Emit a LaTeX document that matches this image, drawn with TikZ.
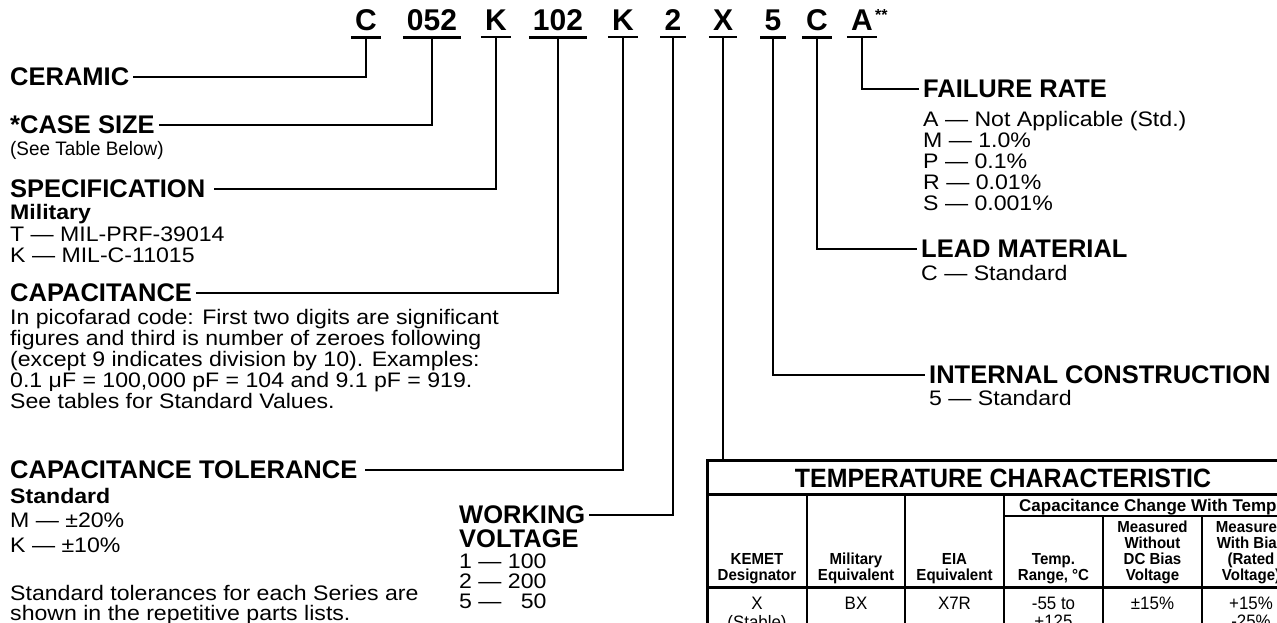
\documentclass[tikz,border=0pt]{standalone}
\usepackage{fontspec}
\setmainfont{Liberation Sans}
\newfontfamily\wid[FakeStretch=1.1]{Liberation Sans}
\newfontfamily\sml[FakeStretch=0.97]{Liberation Sans}
\newfontfamily\tnar[FakeStretch=0.94]{Liberation Sans}
\begin{document}
\begin{tikzpicture}[x=1pt,y=-1pt,line width=2.4pt,
  code/.style={font=\fontsize{30}{30}\selectfont\bfseries,inner xsep=3pt,inner ysep=0pt,anchor=base},
  head/.style={font=\fontsize{25.5}{26}\selectfont\bfseries,inner xsep=3pt,inner ysep=0pt,anchor=west},
  headb/.style={font=\fontsize{25.5}{26}\selectfont\bfseries,inner sep=0pt,anchor=base west},
  sub/.style={font=\wid\fontsize{21}{21}\selectfont\bfseries,inner sep=0pt,anchor=base west},
  body/.style={font=\wid\fontsize{21}{21}\selectfont,inner sep=0pt,anchor=base west},
  small/.style={font=\sml\fontsize{19.5}{19.5}\selectfont,inner sep=0pt,anchor=base west},
  thead/.style={font=\tnar\fontsize{16}{16.3}\selectfont\bfseries,inner sep=0pt,anchor=south,align=center},
  tdata/.style={font=\tnar\fontsize{18}{18}\selectfont,inner sep=0pt,anchor=north,align=center},
  uline/.style={line width=2.4pt},
  conn/.style={line width=2.4pt},
  tthick/.style={line width=3pt},
  tthin/.style={line width=2.2pt}]
\useasboundingbox (0,0) rectangle (1277,622);
\clip (0,0) rectangle (1277,622);

% part number code
\node[code] (c1) at (366,30) {C};
\node[code] (c2) at (432,30) {052};
\node[code] (c3) at (496,30) {K};
\node[code] (c4) at (558,30) {102};
\node[code] (c5) at (623,30) {K};
\node[code] (c6) at (673,30) {2};
\node[code] (c7) at (723,30) {X};
\node[code] (c8) at (773,30) {5};
\node[code] (c9) at (817,30) {C};
\node[code] (c10) at (862,30) {A};
\node[font=\fontsize{16}{16}\selectfont\bfseries,inner sep=0pt,anchor=north west] (stars) at ([xshift=-3pt]c10.north east) {**};
\foreach \c in {c1,c2,c3,c4,c5,c6,c7,c8,c9,c10}
  \draw[uline] ([yshift=-6pt]\c.south west) -- ([yshift=-6pt]\c.south east);

% left column
\node[head] (ceramic) at (6,77) {CERAMIC};
\node[head] (casesize) at (6,125) {*CASE SIZE};
\node[small] (seetable) at (9,155) {(See Table Below)};
\node[head] (spec) at (6,189) {SPECIFICATION};
\node[sub] (military) at (9,219) {Military};
\node[body] (spt) at (9,241) {T — MIL-PRF-39014};
\node[body] (spk) at (9,262) {K — MIL-C-11015};
\node[head] (cap) at (6,293) {CAPACITANCE};
\node[body] (pf1) at (9,324) {In picofarad code: First two digits are significant};
\node[body] (pf2) at (9,345) {figures and third is number of zeroes following};
\node[body] (pf3) at (9,366) {(except 9 indicates division by 10). Examples:};
\node[body] (pf4) at (9,387) {0.1 μF = 100,000 pF = 104 and 9.1 pF = 919.};
\node[body] (pf5) at (9,408) {See tables for Standard Values.};
\node[head] (captol) at (6,470) {CAPACITANCE TOLERANCE};
\node[sub] (standard) at (9,503) {Standard};
\node[body] (tm) at (9,527) {M — ±20\%};
\node[body] (tk) at (9,552) {K — ±10\%};
\node[body] (st1) at (9,600) {Standard tolerances for each Series are};
\node[body] (st2) at (9,620) {shown in the repetitive parts lists.};

% working voltage
\node[head] (working) at (455,515) {WORKING};
\node[headb] (voltage) at (458,547) {VOLTAGE};
\node[body] (v1) at (458,568) {1 — 100};
\node[body] (v2) at (458,588) {2 — 200};
\node[body] (v5) at (458,608) {5 — \hphantom{1}50};

% right column
\node[head] (failure) at (919,89) {FAILURE RATE};
\node[body] (fa) at (922,126) {A — Not Applicable (Std.)};
\node[body] (fm) at (922,147) {M — 1.0\%};
\node[body] (fp) at (922,168) {P — 0.1\%};
\node[body] (fr) at (922,189) {R — 0.01\%};
\node[body] (fs) at (922,210) {S — 0.001\%};
\node[head] (lead) at (917,249) {LEAD MATERIAL};
\node[body] (leadc) at (920,280) {C — Standard};
\node[head] (internal) at (925,375) {INTERNAL CONSTRUCTION};
\node[body] (int5) at (928,405) {5 — Standard};

% connectors
\draw[conn] ([yshift=-6pt]c1.south) |- (ceramic.east);
\draw[conn] ([yshift=-6pt]c2.south) |- (casesize.east);
\draw[conn] ([yshift=-6pt]c3.south) |- ([xshift=5pt]spec.east);
\draw[conn] ([yshift=-6pt]c4.south) |- (cap.east);
\draw[conn] ([yshift=-6pt]c5.south) |- ([xshift=4pt]captol.east);
\draw[conn] ([yshift=-6pt]c6.south) |- (working.east);
\coordinate (tabtop) at (723,460);
\draw[conn] ([yshift=-6pt]c7.south) -- (tabtop);
\draw[conn] ([yshift=-6pt]c8.south) |- (internal.west);
\draw[conn] ([yshift=-6pt]c9.south) |- (lead.west);
\draw[conn] ([yshift=-6pt]c10.south) |- (failure.west);

% temperature characteristic table
\draw[tthick] (707,460) rectangle (1299,720);
\draw[tthin] (707,494.5) -- (1299,494.5);
\draw[tthin] (1004,516) -- (1299,516);
\draw[tthick] (707,587) -- (1299,587);
\draw[tthin] (807,494.5) -- (807,720);
\draw[tthin] (905,494.5) -- (905,720);
\draw[tthin] (1004,494.5) -- (1004,720);
\draw[tthin] (1103,516) -- (1103,720);
\draw[tthin] (1202,516) -- (1202,720);
\node[font=\tnar\fontsize{26.5}{27}\selectfont\bfseries,inner sep=0pt,anchor=base] (ttitle) at (1003,487) {TEMPERATURE CHARACTERISTIC};
\node[font=\fontsize{17}{17}\selectfont\bfseries,inner sep=0pt,anchor=base west] (capchange) at (1018,511) {Capacitance Change With Temperature};
\node[thead] (h1) at (757,587) {KEMET\\Designator\strut};
\node[thead] (h2) at (856,587) {Military\\Equivalent\strut};
\node[thead] (h3) at (954.5,587) {EIA\\Equivalent\strut};
\node[thead] (h4) at (1053.5,587) {Temp.\\Range, °C\strut};
\node[thead] (h5) at (1152.5,587) {Measured\\Without\\DC Bias\\Voltage\strut};
\node[thead] (h6) at (1251,587) {Measured\\With Bias\\(Rated\\Voltage)\strut};
\node[tdata] (d1) at (757,595.5) {\strut X\\(Stable)};
\node[tdata] (d2) at (856,595.5) {\strut BX};
\node[tdata] (d3) at (954.5,595.5) {\strut X7R};
\node[tdata] (d4) at (1053.5,595.5) {\strut -55 to\\+125};
\node[tdata] (d5) at (1152.5,595.5) {\strut ±15\%};
\node[tdata] (d6) at (1251,595.5) {\strut +15\%\\-25\%};
\end{tikzpicture}
\end{document}
